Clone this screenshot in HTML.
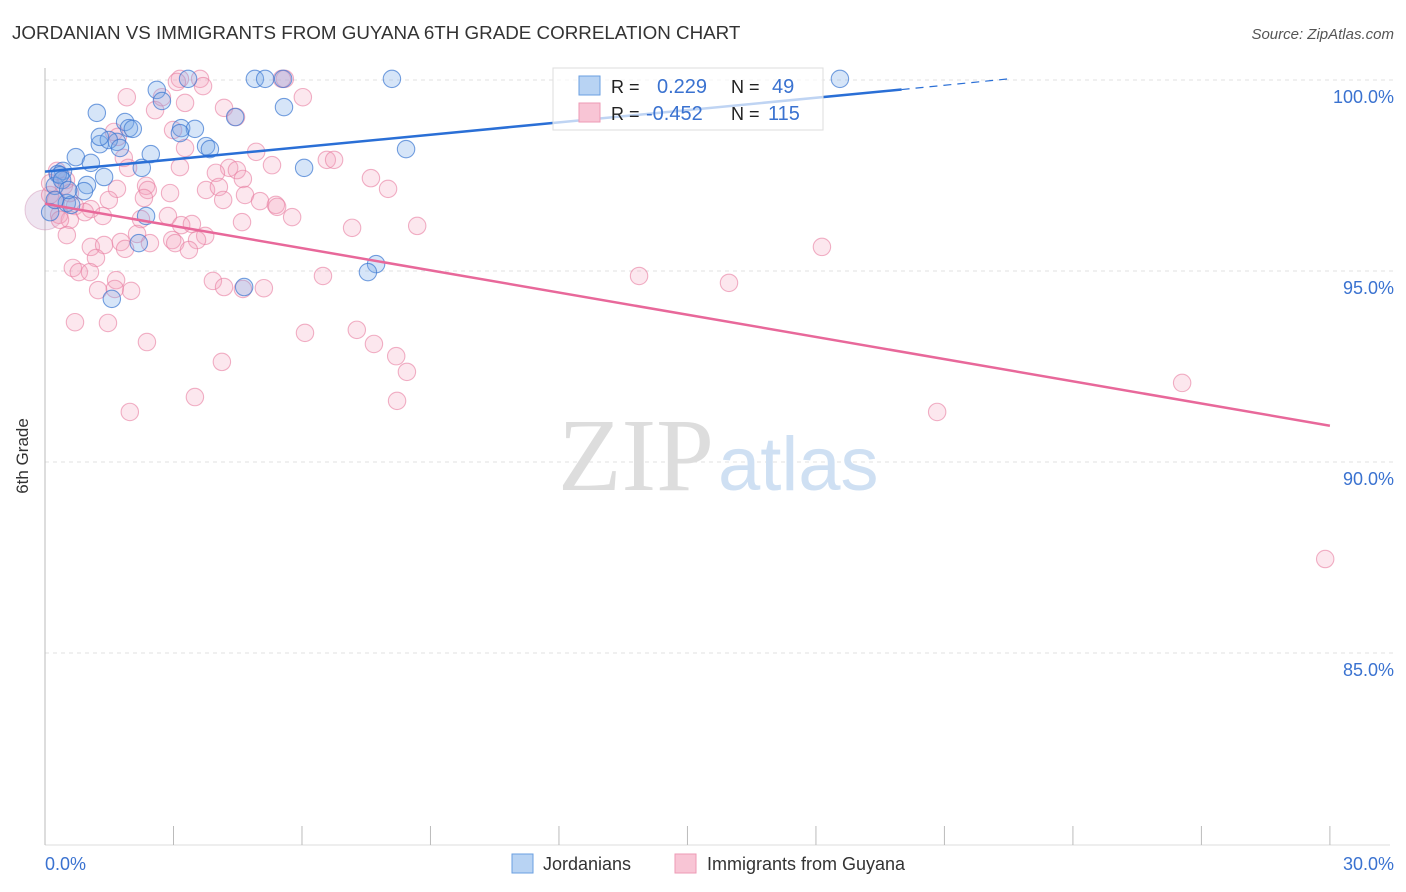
<!DOCTYPE html>
<html><head><meta charset="utf-8"><style>
body{margin:0;background:#fff;font-family:"Liberation Sans",sans-serif}
svg{display:block}
</style></head><body>
<svg id="chart" width="1406" height="892" xmlns="http://www.w3.org/2000/svg">
<text x="12" y="39" font-size="18.8" fill="#333">JORDANIAN VS IMMIGRANTS FROM GUYANA 6TH GRADE CORRELATION CHART</text>
<text x="1394" y="39" font-size="15" fill="#555" font-style="italic" text-anchor="end">Source: ZipAtlas.com</text>
<g id="grid"></g>
<text x="714" y="490" font-size="104" fill="#ddd" text-anchor="end" font-family="Liberation Serif,serif">ZIP</text>
<text x="718" y="490" font-size="76" fill="#cfe0f3">atlas</text>
<line x1="45" y1="68" x2="45" y2="845" stroke="#bbb"/>
<line x1="45" y1="845" x2="1390" y2="845" stroke="#ddd"/>
<g id="xticks"></g>
<text x="28" y="456" font-size="17" fill="#333" text-anchor="middle" transform="rotate(-90 28 456)">6th Grade</text>
<g id="pts"></g>
<g id="lines"></g>
<g>
<rect x="553" y="68" width="270" height="62" fill="#fff" fill-opacity="0.7" stroke="#ddd"/>
<rect x="579" y="76" width="21" height="19" fill="#b8d3f3" stroke="#6a9fe0"/>
<rect x="579" y="103" width="21" height="19" fill="#f8c5d5" stroke="#ee9ab5"/>
<text x="611" y="93" font-size="18" fill="#222">R =</text>
<text x="657" y="93" font-size="20" fill="#3a72d0">0.229</text>
<text x="731" y="93" font-size="18" fill="#222">N =</text>
<text x="772" y="93" font-size="20" fill="#3a72d0">49</text>
<text x="611" y="120" font-size="18" fill="#222">R =</text>
<text x="646" y="120" font-size="20" fill="#3a72d0">-0.452</text>
<text x="731" y="120" font-size="18" fill="#222">N =</text>
<text x="768" y="120" font-size="20" fill="#3a72d0">115</text>
</g>
<text x="45" y="870" font-size="18" fill="#3a72d0">0.0%</text>
<text x="1394" y="870" font-size="18" fill="#3a72d0" text-anchor="end">30.0%</text>
<rect x="512" y="854" width="21" height="19" fill="#b8d3f3" stroke="#6a9fe0"/>
<text x="543" y="870" font-size="18" fill="#333">Jordanians</text>
<rect x="675" y="854" width="21" height="19" fill="#f8c5d5" stroke="#ee9ab5"/>
<text x="707" y="870" font-size="18" fill="#333">Immigrants from Guyana</text>
</svg>
<script>
const yTicks=[100,95,90,85];
const yTickLabels=["100.0%","95.0%","90.0%","85.0%"];
const xTicks=[0,3,6,9,12,15,18,21,24,27,30];
const bluePx=[[97,113],[157,90],[188,79],[255,79],[265,79],[283,79],[392,79],[840,79],[284,107],[235,117],[162,101],[125,122],[129,128],[133,129],[181,128],[195,129],[180,133],[100,144],[117,142],[109,140],[206,146],[210,149],[406,149],[151,154],[76,157],[91,163],[142,168],[304,168],[63,171],[58,174],[104,177],[87,185],[55,186],[84,191],[67,203],[146,216],[139,243],[376,264],[368,272],[244,287],[112,299],[60,175],[71,205],[50,212],[120,148],[100,137],[62,180],[68,190],[55,200]];
const pinkPx=[[180,79],[200,79],[177,82],[285,79],[203,86],[282,79],[127,97],[303,97],[155,110],[162,97],[185,103],[224,108],[236,117],[173,130],[114,132],[118,137],[185,148],[256,152],[124,158],[128,168],[180,167],[229,168],[327,160],[334,160],[237,170],[272,165],[371,178],[216,173],[243,179],[388,189],[57,171],[66,180],[117,189],[146,186],[148,190],[170,193],[206,190],[219,187],[223,200],[245,195],[260,201],[276,205],[277,207],[64,186],[50,195],[75,206],[91,209],[109,200],[144,198],[85,212],[70,220],[103,216],[141,219],[168,216],[242,222],[292,217],[352,228],[417,226],[67,235],[137,234],[181,225],[205,236],[192,224],[91,247],[104,245],[121,242],[150,243],[172,240],[197,240],[96,258],[125,249],[175,243],[189,250],[73,268],[79,272],[90,272],[116,280],[213,281],[224,287],[243,289],[264,288],[323,276],[639,276],[729,283],[822,247],[98,290],[131,291],[115,289],[75,322],[108,323],[305,333],[357,330],[374,344],[147,342],[396,356],[222,362],[407,372],[1182,383],[195,397],[130,412],[397,401],[937,412],[1325,559],[59,215],[70,193],[56,200],[50,183],[60,220]];
const blueX=bluePx.map(p=>+((p[0]-45)/42.83).toFixed(2));
const blueY=bluePx.map(p=>+(100-(p[1]-80)/38.2).toFixed(2));
const pinkX=pinkPx.map(p=>+((p[0]-45)/42.83).toFixed(2));
const pinkY=pinkPx.map(p=>+(100-(p[1]-80)/38.2).toFixed(2));
const blueTrend=[[0,97.60],[20.0,99.75],[22.5,100.03]];
const pinkTrend=[[0,96.76],[30,90.95]];

const X=v=>45+v*42.83, Y=v=>80+(100-v)*38.2;
const NS="http://www.w3.org/2000/svg";
function mk(t,a,p){const e=document.createElementNS(NS,t);for(const k in a)e.setAttribute(k,a[k]);p.appendChild(e);return e;}
const grid=document.getElementById('grid');
yTicks.forEach((v,i)=>{
 const l=mk('line',{x1:45,x2:1395,y1:Y(v),y2:Y(v),stroke:'#e2e2e2','stroke-dasharray':'4,4'},grid);
 
 
 const t=mk('text',{x:1394,y:Y(v)+23,'font-size':18,fill:'#3a72d0','text-anchor':'end'},grid);
 t.textContent=yTickLabels[i];
 
 
});
const xt=document.getElementById('xticks');
xTicks.forEach(v=>{
 const l=mk('line',{x1:X(v),x2:X(v),y1:826,y2:845,stroke:'#bbb'},xt);
 
 
});
const pts=document.getElementById('pts');
let big=mk('circle',{cx:X(0),cy:Y(96.6),r:20,fill:'rgba(190,150,200,0.25)',stroke:'rgba(200,130,170,0.4)'},pts);


pinkX.forEach((x,i)=>{
 const c=mk('circle',{cx:X(x),cy:Y(pinkY[i]),r:8.7,fill:'rgba(245,160,188,0.25)',stroke:'rgba(232,125,160,0.6)','stroke-width':1.1},pts);
 
 
});
blueX.forEach((x,i)=>{
 const c=mk('circle',{cx:X(x),cy:Y(blueY[i]),r:8.7,fill:'rgba(120,168,232,0.3)',stroke:'rgba(60,120,210,0.7)','stroke-width':1.1},pts);
 
 
});
const lg=document.getElementById('lines');
let b1=mk('line',{x1:X(blueTrend[0][0]),y1:Y(blueTrend[0][1]),x2:X(blueTrend[1][0]),y2:Y(blueTrend[1][1]),stroke:'#2a6fd6','stroke-width':2.5},lg);


let b2=mk('line',{x1:X(blueTrend[1][0]),y1:Y(blueTrend[1][1]),x2:X(blueTrend[2][0]),y2:Y(blueTrend[2][1]),stroke:'#2a6fd6','stroke-width':1.2,'stroke-dasharray':'8,6'},lg);


let p1=mk('line',{x1:X(pinkTrend[0][0]),y1:Y(pinkTrend[0][1]),x2:X(pinkTrend[1][0]),y2:Y(pinkTrend[1][1]),stroke:'#e8689a','stroke-width':2.5},lg);


</script>
</body></html>
